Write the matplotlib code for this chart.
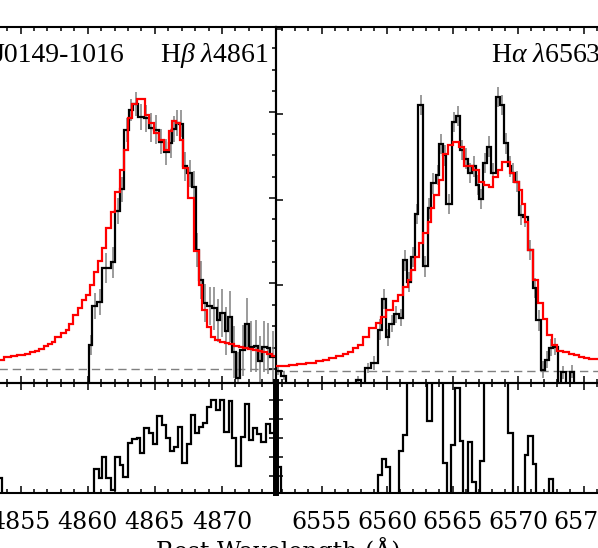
import numpy as np
import matplotlib
matplotlib.use("Agg")
import matplotlib.pyplot as plt
from matplotlib.ticker import MultipleLocator, NullLocator

plt.rcParams['mathtext.fontset'] = 'custom'
plt.rcParams['mathtext.rm'] = 'Liberation Serif'
plt.rcParams['mathtext.it'] = 'Liberation Serif:italic'

# ---------------- data ----------------
object_name = "J0149-1016"
hb_title = r"H$\mathit{\beta}\ \mathit{\lambda}$4861"
ha_title = r"H$\mathit{\alpha}\ \mathit{\lambda}$6563"
x_label = "Rest Wavelength (Å)"

# H-beta observed spectrum (bin edges / flux / error)
hb_obs_edges = [4849.00, 4860.10, 4860.34, 4860.71, 4861.08, 4861.70, 4862.07, 4862.42, 4862.74, 4863.06,
                4863.39, 4863.76, 4864.18, 4864.55, 4864.93, 4865.30, 4865.67, 4866.05, 4866.29, 4866.54,
                4866.79, 4867.11, 4867.41, 4867.78, 4868.03, 4868.28, 4868.60, 4868.90, 4869.27, 4869.60,
                4869.84, 4870.19, 4870.44, 4870.76, 4871.03, 4871.33, 4871.75, 4872.00, 4872.37, 4872.67,
                4873.00, 4873.32, 4873.60, 4874.00]
hb_obs_flux = [-1.00, 0.28, 0.74, 0.78, 1.18, 1.25, 1.85, 2.10, 2.80, 3.03,
               3.10, 2.95, 2.93, 2.82, 2.80, 2.66, 2.54, 2.64, 2.81, 2.88,
               2.87, 2.37, 2.29, 2.13, 1.39, 1.04, 0.77, 0.74, 0.71, 0.57,
               0.65, 0.44, 0.61, 0.20, -0.10, 0.22, 0.53, 0.26, 0.27, 0.09,
               0.26, 0.24, 0.14]
hb_obs_err = [0.00, 0.12, 0.15, 0.15, 0.18, 0.18, 0.15, 0.15, 0.14, 0.13,
              0.14, 0.15, 0.16, 0.17, 0.17, 0.15, 0.15, 0.17, 0.15, 0.15,
              0.16, 0.17, 0.16, 0.18, 0.20, 0.22, 0.22, 0.22, 0.25, 0.25,
              0.28, 0.28, 0.30, 0.30, 0.30, 0.30, 0.30, 0.30, 0.30, 0.30,
              0.30, 0.30, 0.30]

# H-beta model
hb_mod_edges = [4849.00, 4853.30, 4853.75, 4854.30, 4854.75, 4855.37, 4855.74, 4856.05, 4856.37, 4856.74,
                4857.05, 4857.36, 4857.60, 4857.98, 4858.35, 4858.60, 4858.92, 4859.27, 4859.59, 4859.91,
                4860.16, 4860.46, 4860.78, 4861.08, 4861.40, 4861.70, 4862.00, 4862.40, 4862.74, 4863.00,
                4863.30, 4863.64, 4863.95, 4864.30, 4864.55, 4864.93, 4865.30, 4865.67, 4866.05, 4866.29,
                4866.54, 4866.85, 4867.10, 4867.50, 4867.90, 4868.30, 4868.50, 4868.85, 4869.15, 4869.50,
                4869.85, 4870.20, 4870.55, 4870.90, 4871.25, 4871.60, 4871.95, 4872.30, 4872.65, 4873.00,
                4873.35, 4873.70, 4874.00]
hb_mod_flux = [0.090, 0.105, 0.136, 0.150, 0.160, 0.175, 0.200, 0.215, 0.234, 0.270,
               0.290, 0.320, 0.380, 0.420, 0.456, 0.530, 0.630, 0.710, 0.810, 0.870,
               0.980, 1.140, 1.260, 1.410, 1.650, 1.840, 2.070, 2.330, 2.560, 2.930,
               3.100, 3.160, 3.160, 2.970, 2.880, 2.760, 2.680, 2.560, 2.780, 2.900,
               2.880, 2.680, 2.350, 2.000, 1.380, 0.980, 0.690, 0.490, 0.380, 0.340,
               0.320, 0.300, 0.290, 0.270, 0.260, 0.245, 0.235, 0.225, 0.210, 0.200,
               0.180, 0.155]

# H-beta residual
hb_res_edges = [4849.00, 4853.30, 4853.65, 4860.46, 4860.83, 4861.08, 4861.40, 4861.70, 4862.07, 4862.40,
                4862.65, 4862.99, 4863.32, 4863.64, 4863.88, 4864.23, 4864.55, 4864.88, 4865.18, 4865.55,
                4865.80, 4866.12, 4866.41, 4866.71, 4867.04, 4867.36, 4867.66, 4867.96, 4868.28, 4868.60,
                4868.90, 4869.20, 4869.52, 4869.84, 4870.14, 4870.51, 4870.76, 4871.08, 4871.38, 4871.75,
                4872.00, 4872.33, 4872.62, 4872.92, 4873.29, 4873.56, 4873.86, 4874.00]
hb_res_vals = [-5.00, -2.12, -5.00, -1.65, -2.12, -0.98, -2.12, -2.74, -0.98, -1.42,
               -2.07, -0.25, -0.05, 0.00, -0.77, 0.51, 0.25, -0.32, 1.16, 0.68,
               -0.02, -0.67, -0.49, 0.60, -1.33, -0.32, 1.21, 0.28, 0.60, 0.81,
               1.61, 2.00, 1.47, 2.00, 0.33, 1.96, -0.02, -1.47, 0.07, 1.77,
               -0.11, 0.51, 0.21, -0.19, 0.72, 0.25, 0.25]

# H-alpha observed spectrum
ha_obs_edges = [6551.50, 6551.90, 6552.30, 6557.60, 6558.00, 6558.34, 6558.77, 6559.28, 6559.61, 6559.92,
                6560.17, 6560.55, 6560.88, 6561.19, 6561.52, 6561.82, 6562.15, 6562.40, 6562.76, 6563.09,
                6563.35, 6563.73, 6563.98, 6564.29, 6564.54, 6564.95, 6565.26, 6565.56, 6565.89, 6566.15,
                6566.48, 6566.79, 6567.04, 6567.34, 6567.60, 6567.93, 6568.31, 6568.62, 6568.95, 6569.20,
                6569.50, 6569.79, 6570.04, 6570.40, 6570.73, 6571.11, 6571.41, 6571.75, 6572.08, 6572.38,
                6572.69, 6573.02, 6573.27, 6573.66, 6573.96, 6574.29, 6577.50]
ha_obs_flux = [0.00, -0.06, -1.00, -0.11, -1.00, 0.03, 0.09, 0.48, 0.84, 0.39,
               0.55, 0.66, 0.62, 1.29, 1.04, 1.33, 1.83, 3.11, 1.22, 1.90,
               2.19, 2.29, 2.65, 2.52, 1.95, 2.91, 2.98, 2.58, 2.48, 2.31,
               2.39, 2.17, 2.01, 2.43, 2.62, 2.31, 3.20, 3.11, 2.66, 2.39,
               2.31, 2.21, 1.82, 1.80, 1.41, 0.97, 0.59, 0.01, 0.13, 0.27,
               0.28, -1.00, -0.02, -1.00, -0.01, -1.00]
ha_obs_err = [0.05, 0.05, 0.00, 0.05, 0.00, 0.06, 0.08, 0.12, 0.12, 0.10,
              0.10, 0.10, 0.10, 0.12, 0.12, 0.12, 0.12, 0.12, 0.12, 0.12,
              0.12, 0.12, 0.12, 0.12, 0.12, 0.12, 0.12, 0.12, 0.12, 0.12,
              0.12, 0.12, 0.12, 0.12, 0.12, 0.12, 0.12, 0.12, 0.12, 0.12,
              0.12, 0.12, 0.12, 0.12, 0.12, 0.12, 0.12, 0.10, 0.10, 0.10,
              0.10, 0.00, 0.08, 0.00, 0.08, 0.00]

# H-alpha model
ha_mod_edges = [6551.50, 6552.53, 6553.10, 6553.81, 6554.57, 6555.10, 6555.59, 6556.10, 6556.60, 6557.00,
                6557.37, 6557.75, 6558.13, 6558.64, 6559.15, 6559.53, 6559.92, 6560.42, 6560.80, 6561.19,
                6561.57, 6561.82, 6562.15, 6562.46, 6562.71, 6563.09, 6563.35, 6563.60, 6563.93, 6564.24,
                6564.62, 6565.00, 6565.51, 6565.89, 6566.25, 6566.58, 6567.04, 6567.42, 6567.75, 6568.11,
                6568.44, 6568.77, 6569.08, 6569.38, 6569.71, 6570.04, 6570.34, 6570.55, 6570.80, 6571.16,
                6571.49, 6571.87, 6572.25, 6572.63, 6573.00, 6573.45, 6573.91, 6574.30, 6574.67, 6575.05,
                6575.43, 6577.50]
ha_mod_flux = [0.050, 0.065, 0.075, 0.090, 0.110, 0.130, 0.150, 0.170, 0.200, 0.220,
               0.260, 0.300, 0.400, 0.500, 0.560, 0.630, 0.710, 0.810, 0.890, 0.980,
               1.060, 1.180, 1.330, 1.490, 1.610, 1.740, 1.900, 2.050, 2.230, 2.540,
               2.640, 2.680, 2.620, 2.390, 2.390, 2.350, 2.210, 2.170, 2.150, 2.270,
               2.350, 2.440, 2.440, 2.310, 2.210, 2.110, 1.950, 1.740, 1.410, 1.060,
               0.790, 0.600, 0.420, 0.300, 0.230, 0.220, 0.200, 0.180, 0.160, 0.150,
               0.140]

# H-alpha residual
ha_res_edges = [6551.50, 6551.90, 6559.28, 6559.61, 6559.92, 6560.24, 6560.88, 6561.19, 6561.52, 6563.04,
                6563.40, 6564.24, 6564.57, 6564.88, 6565.21, 6565.54, 6565.79, 6566.15, 6566.45, 6566.79,
                6567.09, 6567.42, 6569.25, 6569.58, 6570.53, 6570.80, 6571.11, 6571.41, 6572.33, 6572.69,
                6577.50]
ha_res_vals = [-1.51, -5.00, -1.95, -1.12, -1.54, -5.00, -0.67, 0.16, 5.00, 0.91,
               5.00, -1.30, -5.00, -0.37, 2.61, -0.16, -5.00, -0.19, -2.30, -5.00,
               -1.19, 5.00, 0.28, -5.00, -0.89, 0.11, -1.39, -5.00, -2.17, -5.00]

hb_xlim = (4849.0, 4874.0)
ha_xlim = (6551.5, 6577.0)
hb_ylim = (-0.158, 4.0)
ha_ylim = (-0.138, 4.02)
res_ylim = (-2.89, 2.92)
hb_ticks = [4850, 4855, 4860, 4865, 4870]
ha_ticks = [6555, 6560, 6565, 6570, 6575]

# ---------------- layout ----------------
W, H = 598, 548
fig = plt.figure(figsize=(W / 100, H / 100), dpi=100)


def box(x0, x1, y0, y1):
    return [x0 / W, 1 - y1 / H, (x1 - x0) / W, (y1 - y0) / H]


XL, XM, XR = -60.05, 275.7, 609.7
YT, YM, YB = 27.0, 382.5, 493.0
ax_hb = fig.add_axes(box(XL, XM, YT, YM))
ax_ha = fig.add_axes(box(XM, XR, YT, YM))
rx_hb = fig.add_axes(box(XL, XM, YM, YB))
rx_ha = fig.add_axes(box(XM, XR, YM, YB))

tick_font = {'family': 'DejaVu Serif', 'size': 17}
GRAY = '#808080'


def style(ax, xlim, ylim, xticks, show_labels, ymajor, yminor):
    ax.set_facecolor('none')
    ax.set_xlim(*xlim)
    ax.set_ylim(*ylim)
    ax.xaxis.set_major_locator(MultipleLocator(5))
    ax.xaxis.set_minor_locator(MultipleLocator(1))
    ax.yaxis.set_major_locator(MultipleLocator(ymajor))
    if yminor:
        ax.yaxis.set_minor_locator(MultipleLocator(yminor))
    else:
        ax.yaxis.set_minor_locator(NullLocator())
    ax.tick_params(which='both', direction='in', top=True, bottom=True, left=True, right=True,
                   labelleft=False, width=1.1, color='black')
    ax.tick_params(which='major', length=5)
    ax.tick_params(which='minor', length=3)
    ax.tick_params(axis='x', which='major', pad=13, labelbottom=show_labels)
    if show_labels:
        ax.set_xticks(xticks)
        ax.set_xticklabels([str(t) for t in xticks], fontdict=tick_font)
    for s in ax.spines.values():
        s.set_linewidth(1.5)


style(ax_hb, hb_xlim, hb_ylim, hb_ticks, False, 1, 0.25)
style(ax_ha, ha_xlim, ha_ylim, ha_ticks, False, 1, None)
style(rx_hb, hb_xlim, res_ylim, hb_ticks, True, 1, None)
style(rx_ha, ha_xlim, res_ylim, ha_ticks, True, 1, None)
rx_ha.spines['left'].set_linewidth(4.3)


def draw_panel(ax, oe, of, oerr, me, mf):
    oe = np.asarray(oe); of = np.asarray(of); oerr = np.asarray(oerr)
    ax.axhline(0, color=GRAY, lw=1.0, ls=(0, (6, 3.5)), zorder=1)
    centers = 0.5 * (oe[:-1] + oe[1:])
    ok = oerr > 0
    ax.vlines(centers[ok], (of - oerr)[ok], (of + oerr)[ok], color=GRAY, lw=1.1, zorder=2)
    ax.stairs(of, oe, baseline=None, color='black', lw=1.6, zorder=3)
    ax.stairs(mf, me, baseline=None, color='red', lw=1.6, zorder=4)


draw_panel(ax_hb, hb_obs_edges, hb_obs_flux, hb_obs_err, hb_mod_edges, hb_mod_flux)
draw_panel(ax_ha, ha_obs_edges, ha_obs_flux, ha_obs_err, ha_mod_edges, ha_mod_flux)
rx_hb.stairs(hb_res_vals, hb_res_edges, baseline=None, color='black', lw=1.6)
rx_ha.stairs(ha_res_vals, ha_res_edges, baseline=None, color='black', lw=1.6)

# ---------------- text ----------------
title_font = dict(family='Liberation Serif', size=20)
fig.text(124 / W, 1 - 61.5 / H, object_name, ha='right', va='baseline', **title_font)
fig.text(268 / W, 1 - 61.5 / H, hb_title, ha='right', va='baseline', **title_font)
fig.text(601 / W, 1 - 61.5 / H, ha_title, ha='right', va='baseline', **title_font)
fig.text(278 / W, 1 - 558.5 / H, x_label, ha='center', va='baseline', family='DejaVu Serif', size=17)

fig.savefig('out.png', dpi=100)
